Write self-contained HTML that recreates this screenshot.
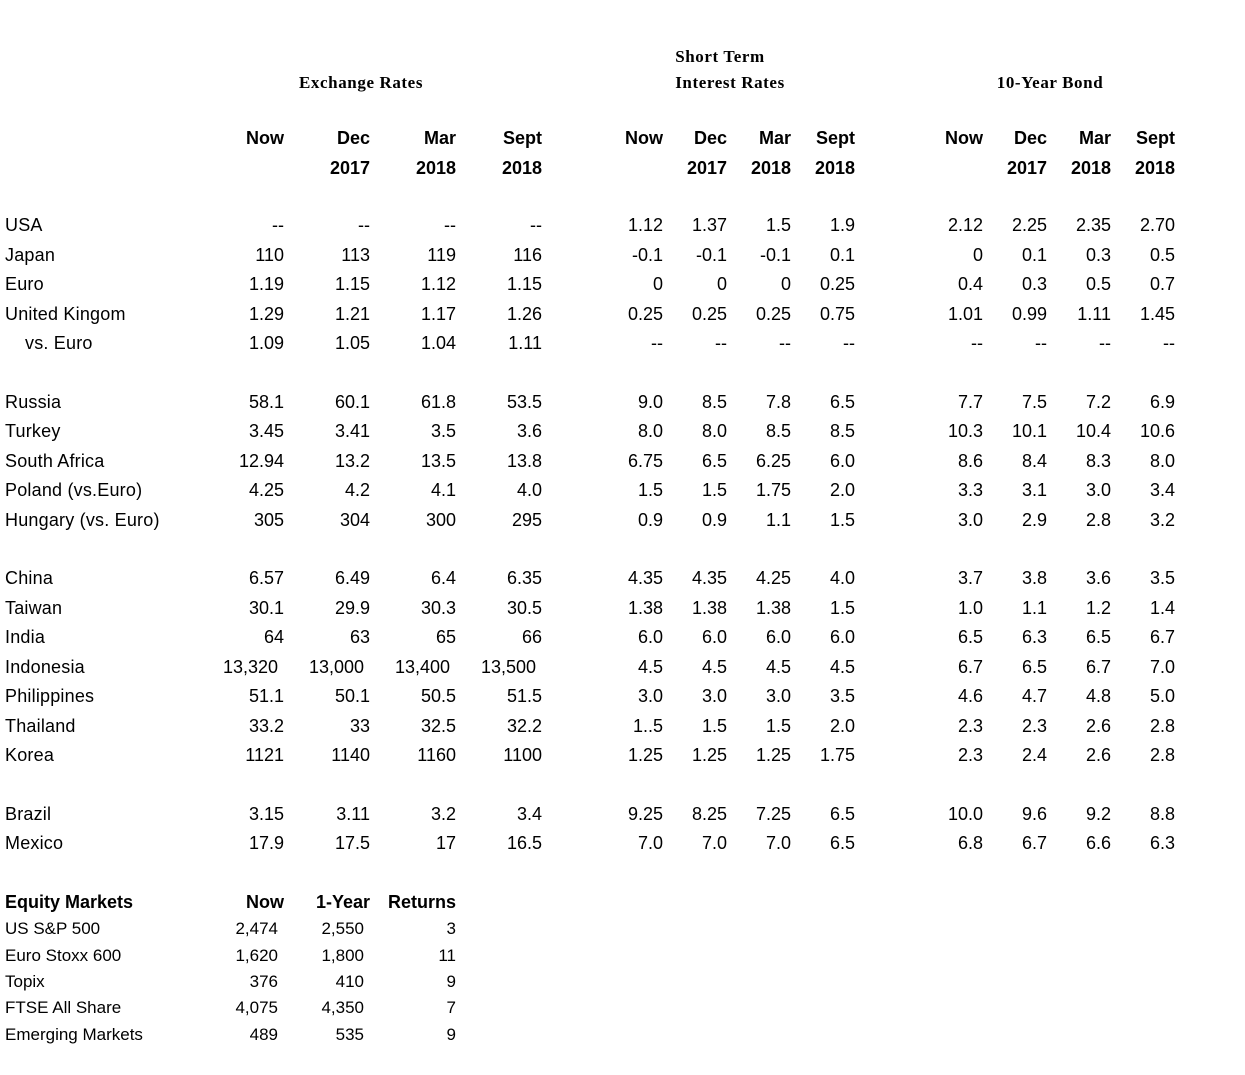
<!DOCTYPE html>
<html><head><meta charset="utf-8"><style>
body{margin:0;background:#fff;width:1245px;height:1075px;position:relative;overflow:hidden;font-family:"Liberation Sans",Arial,sans-serif;color:#000}
.t{position:absolute;white-space:nowrap;font-size:18px;line-height:20px;transform:translateY(-50%)}
.r{transform:translate(-100%,-50%)}
.c{transform:translate(-50%,-50%)}
.b{font-weight:bold}
.s{font-family:"Liberation Serif",serif;font-weight:bold;font-size:17px;letter-spacing:0.6px}
.e{font-size:17px}
.l{letter-spacing:0.2px}
</style></head><body>
<div id="root"></div>
<script>
const root=document.getElementById('root');
function T(x,y,txt,cls){const d=document.createElement('div');d.className='t '+(cls||'');d.style.left=x+'px';d.style.top=y+'px';d.textContent=txt;root.appendChild(d);}
T(361,83,'Exchange Rates','s c');
T(720,57,'Short Term','s c');
T(730,83,'Interest Rates','s c');
T(1050,83,'10-Year Bond','s c');
const cols=[284,370,456,542,663,727,791,855,983,1047,1111,1175];
const h1=['Now','Dec','Mar','Sept'],h2=['','2017','2018','2018'];
for(let g=0;g<3;g++)for(let i=0;i<4;i++){T(cols[g*4+i],138,h1[i],'b r');if(h2[i])T(cols[g*4+i],168,h2[i],'b r');}
const rows=[
[225,'USA','-- -- -- -- 1.12 1.37 1.5 1.9 2.12 2.25 2.35 2.70'],
[255,'Japan','110 113 119 116 -0.1 -0.1 -0.1 0.1 0 0.1 0.3 0.5'],
[284,'Euro','1.19 1.15 1.12 1.15 0 0 0 0.25 0.4 0.3 0.5 0.7'],
[314,'United Kingom','1.29 1.21 1.17 1.26 0.25 0.25 0.25 0.75 1.01 0.99 1.11 1.45'],
[343,'    vs. Euro','1.09 1.05 1.04 1.11 -- -- -- -- -- -- -- --'],
[402,'Russia','58.1 60.1 61.8 53.5 9.0 8.5 7.8 6.5 7.7 7.5 7.2 6.9'],
[431,'Turkey','3.45 3.41 3.5 3.6 8.0 8.0 8.5 8.5 10.3 10.1 10.4 10.6'],
[461,'South Africa','12.94 13.2 13.5 13.8 6.75 6.5 6.25 6.0 8.6 8.4 8.3 8.0'],
[490,'Poland (vs.Euro)','4.25 4.2 4.1 4.0 1.5 1.5 1.75 2.0 3.3 3.1 3.0 3.4'],
[520,'Hungary (vs. Euro)','305 304 300 295 0.9 0.9 1.1 1.5 3.0 2.9 2.8 3.2'],
[578,'China','6.57 6.49 6.4 6.35 4.35 4.35 4.25 4.0 3.7 3.8 3.6 3.5'],
[608,'Taiwan','30.1 29.9 30.3 30.5 1.38 1.38 1.38 1.5 1.0 1.1 1.2 1.4'],
[637,'India','64 63 65 66 6.0 6.0 6.0 6.0 6.5 6.3 6.5 6.7'],
[667,'Indonesia','13,320 13,000 13,400 13,500 4.5 4.5 4.5 4.5 6.7 6.5 6.7 7.0'],
[696,'Philippines','51.1 50.1 50.5 51.5 3.0 3.0 3.0 3.5 4.6 4.7 4.8 5.0'],
[726,'Thailand','33.2 33 32.5 32.2 1..5 1.5 1.5 2.0 2.3 2.3 2.6 2.8'],
[755,'Korea','1121 1140 1160 1100 1.25 1.25 1.25 1.75 2.3 2.4 2.6 2.8'],
[814,'Brazil','3.15 3.11 3.2 3.4 9.25 8.25 7.25 6.5 10.0 9.6 9.2 8.8'],
[843,'Mexico','17.9 17.5 17 16.5 7.0 7.0 7.0 6.5 6.8 6.7 6.6 6.3']];
rows.forEach(([y,n,v])=>{const isInd=n.startsWith(' ');T(isInd?25:5,y,n.trim(),'l');v.split(' ').forEach((s,i)=>{let x=cols[i];if(i==0&&s.includes(','))x=278;if(i==1&&s.includes(','))x=364;if(i==2&&s.includes(','))x=450;if(i==3&&s.includes(','))x=536;T(x,y,s,'r');});});
T(5,902,'Equity Markets','b');T(284,902,'Now','b r');T(370,902,'1-Year','b r');T(456,902,'Returns','b r');
[[929,'US S&P 500','2,474','2,550','3'],[956,'Euro Stoxx 600','1,620','1,800','11'],[982,'Topix','376','410','9'],[1008,'FTSE All Share','4,075','4,350','7'],[1035,'Emerging Markets','489','535','9']].forEach(([y,n,a,b,c])=>{T(5,y,n,'e');T(278,y,a,'e r');T(364,y,b,'e r');T(456,y,c,'e r');});
</script>
</body></html>
